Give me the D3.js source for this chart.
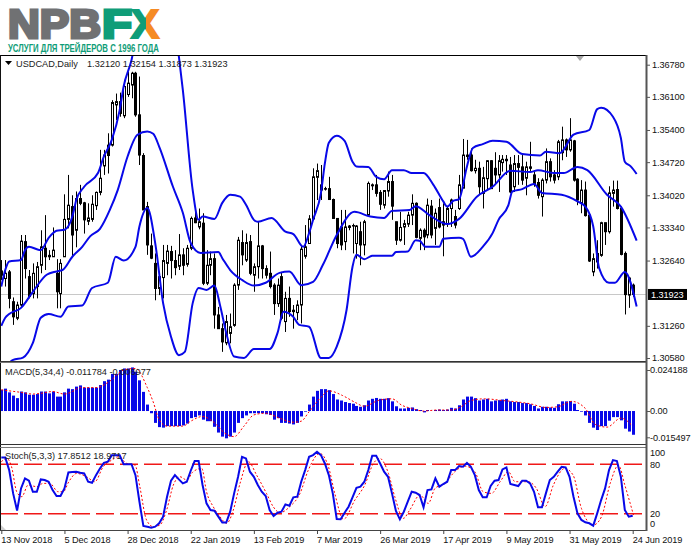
<!DOCTYPE html>
<html><head><meta charset="utf-8">
<script src="https://cdn.jsdelivr.net/npm/d3@7/dist/d3.min.js"></script>
<style>html,body{margin:0;padding:0;background:#fff}svg{display:block}text{font-family:"Liberation Sans",Arial,sans-serif}</style>
</head><body><div id="chart"></div>
<script>
const symbolLabel="USDCAD,Daily", ohlcLabel="1.32120 1.32154 1.31873 1.31923";
const macdLabel="MACD(5,34,4) -0.011784 -0.006977", stochLabel="Stoch(5,3,3) 17.8512 18.9717";
const brandMain="NPB", brandF="F", brandX="X", brandLine="УСЛУГИ ДЛЯ ТРЕЙДЕРОВ С 1996 ГОДА";
const lastPrice=1.31923;
const priceTicks=[1.3678,1.361,1.354,1.3472,1.3402,1.3334,1.3264,1.3126,1.3058];
const dateTicks=["13 Nov 2018","5 Dec 2018","28 Dec 2018","22 Jan 2019","13 Feb 2019","7 Mar 2019","26 Mar 2019","17 Apr 2019","9 May 2019","31 May 2019","24 Jun 2019"];
const macdTicks=[0.024188,0,-0.015497], macdTickLabels=["0.024188","0.00","-0.015497"];
const stochLevels=[80,20];
const stochTickLabels=[["100",93.5],["80",80],["20",20],["0",8]];

const opens=[1.3242,1.3226,1.3240,1.3177,1.3142,1.3170,1.3304,1.3230,1.3194,1.3209,
1.3254,1.3290,1.3275,1.3272,1.3237,1.3194,1.3272,1.3351,1.3378,1.3328,
1.3395,1.3386,1.3347,1.3351,1.3380,1.3408,1.3464,1.3508,1.3508,1.3593,
1.3600,1.3570,1.3615,1.3635,1.3660,1.3572,1.3486,1.3378,1.3295,1.3258,
1.3205,1.3228,1.3258,1.3283,1.3264,1.3252,1.3276,1.3256,1.3290,1.3354,
1.3335,1.3343,1.3216,1.3254,1.3268,1.3149,1.3120,1.3090,1.3110,1.3127,
1.3212,1.3302,1.3265,1.3304,1.3233,1.3251,1.3295,1.3247,1.3237,1.3212,
1.3173,1.3230,1.3135,1.3184,1.3159,1.3154,1.3170,1.3273,1.3300,1.3352,
1.3440,1.3424,1.3416,1.3416,1.3393,1.3353,1.3335,1.3304,1.3337,1.3338,
1.3300,1.3325,1.3297,1.3360,1.3424,1.3424,1.3408,1.3381,1.3411,1.3431,
1.3346,1.3307,1.3335,1.3341,1.3360,1.3385,1.3311,1.3328,1.3318,1.3379,
1.3332,1.3376,1.3346,1.3342,1.3374,1.3357,1.3374,1.3417,1.3487,1.3487,
1.3454,1.3459,1.3406,1.3437,1.3475,1.3459,1.3445,1.3471,1.3478,1.3466,
1.3420,1.3469,1.3462,1.3438,1.3462,1.3445,1.3429,1.3399,1.3434,1.3473,
1.3445,1.3441,1.3492,1.3519,1.3498,1.3517,1.3436,1.3385,1.3413,1.3360,
1.3240,1.3279,1.3275,1.3344,1.3325,1.3406,1.3414,1.3374,1.3279,1.3191,1.3212];
const closes=[1.3233,1.3237,1.3184,1.3145,1.3170,1.3305,1.3247,1.3188,1.3237,1.3251,
1.3293,1.3272,1.3272,1.3286,1.3198,1.3258,1.3351,1.3381,1.3318,1.3395,
1.3385,1.3350,1.3354,1.3383,1.3408,1.3438,1.3487,1.3486,1.3598,1.3600,
1.3575,1.3632,1.3639,1.3660,1.3572,1.3487,1.3371,1.3297,1.3269,1.3205,
1.3230,1.3264,1.3284,1.3264,1.3249,1.3276,1.3254,1.3290,1.3353,1.3344,
1.3346,1.3216,1.3254,1.3268,1.3149,1.3120,1.3092,1.3135,1.3124,1.3212,
1.3307,1.3276,1.3302,1.3237,1.3251,1.3295,1.3247,1.3233,1.3209,1.3173,
1.3212,1.3142,1.3184,1.3156,1.3156,1.3170,1.3288,1.3293,1.3352,1.3441,
1.3454,1.3413,1.3415,1.3393,1.3353,1.3300,1.3297,1.3335,1.3334,1.3337,
1.3337,1.3297,1.3346,1.3427,1.3422,1.3406,1.3383,1.3412,1.3431,1.3379,
1.3307,1.3334,1.3342,1.3360,1.3385,1.3313,1.3328,1.3314,1.3381,1.3318,
1.3364,1.3335,1.3339,1.3374,1.3392,1.3339,1.3424,1.3487,1.3484,1.3454,
1.3459,1.3420,1.3439,1.3475,1.3416,1.3445,1.3475,1.3478,1.3475,1.3409,
1.3469,1.3461,1.3434,1.3462,1.3459,1.3427,1.3402,1.3434,1.3473,1.3441,
1.3434,1.3515,1.3519,1.3498,1.3519,1.3434,1.3392,1.3413,1.3359,1.3263,
1.3268,1.3261,1.3344,1.3325,1.3407,1.3413,1.3374,1.3277,1.3192,1.3227,1.31923];
const highs=[1.3265,1.3265,1.3244,1.3186,1.3177,1.3318,1.3318,1.3244,1.3258,1.3261,
1.3328,1.3360,1.3286,1.3334,1.3267,1.3267,1.3404,1.3445,1.3402,1.3410,
1.3424,1.3388,1.3385,1.3402,1.3410,1.3498,1.3498,1.3533,1.3603,1.3617,
1.3619,1.3646,1.3663,1.3663,1.3663,1.3653,1.3491,1.3388,1.3321,1.3279,
1.3240,1.3297,1.3297,1.3295,1.3286,1.3320,1.3290,1.3297,1.3357,1.3374,
1.3374,1.3364,1.3286,1.3283,1.3279,1.3166,1.3131,1.3149,1.3152,1.3216,
1.3314,1.3328,1.3321,1.3318,1.3258,1.3346,1.3297,1.3254,1.3283,1.3216,
1.3226,1.3240,1.3198,1.3209,1.3170,1.3180,1.3297,1.3339,1.3360,1.3459,
1.3469,1.3466,1.3420,1.3441,1.3395,1.3353,1.3371,1.3371,1.3339,1.3342,
1.3339,1.3346,1.3350,1.3431,1.3427,1.3445,1.3413,1.3412,1.3452,1.3445,
1.3346,1.3367,1.3350,1.3367,1.3404,1.3387,1.3332,1.3332,1.3395,1.3392,
1.3374,1.3395,1.3385,1.3378,1.3395,1.3371,1.3445,1.3521,1.3519,1.3501,
1.3477,1.3473,1.3462,1.3476,1.3476,1.3493,1.3487,1.3487,1.3487,1.3483,
1.3487,1.3487,1.3487,1.3473,1.3515,1.3455,1.3438,1.3438,1.3501,1.3480,
1.3455,1.3519,1.3547,1.3522,1.3565,1.3519,1.3438,1.3434,1.3431,1.3364,
1.3279,1.3307,1.3346,1.3344,1.3421,1.3433,1.3433,1.3378,1.3283,1.3229,1.32154];
const lows=[1.3223,1.3209,1.3163,1.3128,1.3138,1.3166,1.3226,1.3184,1.3184,1.3184,
1.3237,1.3244,1.3265,1.3272,1.3163,1.3163,1.3272,1.3332,1.3272,1.3292,
1.3381,1.3321,1.3339,1.3346,1.3371,1.3402,1.3445,1.3448,1.3505,1.3561,
1.3568,1.3565,1.3610,1.3607,1.3568,1.3466,1.3371,1.3276,1.3267,1.3180,
1.3191,1.3184,1.3233,1.3226,1.3233,1.3244,1.3233,1.3251,1.3286,1.3343,
1.3330,1.3212,1.3212,1.3233,1.3120,1.3120,1.3071,1.3085,1.3089,1.3124,
1.3202,1.3254,1.3261,1.3233,1.3198,1.3226,1.3226,1.3226,1.3205,1.3149,
1.3166,1.3138,1.3113,1.3145,1.3120,1.3138,1.3131,1.3268,1.3300,1.3350,
1.3392,1.3392,1.3412,1.3392,1.3353,1.3290,1.3286,1.3286,1.3328,1.3279,
1.3268,1.3254,1.3275,1.3357,1.3413,1.3399,1.3371,1.3374,1.3399,1.3350,
1.3297,1.3304,1.3297,1.3335,1.3339,1.3311,1.3286,1.3286,1.3311,1.3311,
1.3297,1.3332,1.3273,1.3335,1.3335,1.3332,1.3371,1.3417,1.3477,1.3452,
1.3448,1.3403,1.3374,1.3413,1.3416,1.3427,1.3409,1.3452,1.3445,1.3406,
1.3409,1.3424,1.3424,1.3402,1.3452,1.3420,1.3395,1.3357,1.3427,1.3431,
1.3427,1.3434,1.3476,1.3483,1.3494,1.3431,1.3381,1.3364,1.3357,1.3261,
1.3231,1.3247,1.3272,1.3297,1.3321,1.3378,1.3372,1.3275,1.3150,1.3164,1.31873];

const upperBand=[[0,1.3209],[1,1.3244],[2,1.3262],[5,1.3265],[6,1.3286],[7,1.3293],[10,1.3286],[12,1.3312],[14,1.3327],[16,1.3329],[18,1.3357],[19,1.3392],[21,1.3420],[24.5,1.3449],[26,1.3484],[28,1.3519],[30,1.3582],[31,1.3632],[33,1.3688],[38,1.3950],[45,1.3695],[46,1.3625],[48.5,1.3413],[50,1.3350],[51,1.3357],[54,1.3352],[56,1.3386],[58,1.3403],[60.5,1.3399],[62,1.3382],[64,1.3350],[65,1.3346],[68.5,1.3354],[72,1.3325],[74,1.3320],[76.5,1.3293],[78,1.3322],[79,1.3350],[81,1.3407],[82,1.3470],[83,1.3513],[85,1.3528],[87,1.3517],[89,1.3473],[90,1.3463],[93,1.3462],[95,1.3441],[97,1.3436],[99,1.3455],[102,1.3455],[104,1.3449],[107,1.3449],[109.5,1.3424],[112,1.3389],[113,1.3378],[114.5,1.3390],[116,1.3394],[118,1.3463],[119.5,1.3502],[122,1.3510],[124.5,1.3517],[128,1.3515],[132,1.3489],[136.5,1.3486],[138,1.3494],[141.5,1.3491],[145,1.3530],[149,1.3540],[151,1.3584],[152,1.3587],[155,1.3568],[157,1.3523],[158,1.3473],[159.5,1.3463],[161,1.3447]];
const middleBand=[[0,1.3126],[1,1.3143],[2,1.3151],[5,1.3164],[8,1.3198],[11.5,1.3234],[14,1.3241],[15.5,1.3244],[18,1.3272],[20.5,1.3293],[22.5,1.3315],[25,1.3331],[27.5,1.3371],[29.5,1.3413],[32,1.3484],[34.5,1.3530],[37,1.3537],[38.5,1.3532],[40,1.3505],[43.5,1.3420],[46,1.3365],[48,1.3301],[50.5,1.3280],[55,1.3282],[56,1.3269],[58,1.3244],[61,1.3223],[64,1.3211],[67,1.3217],[70.5,1.3238],[73,1.3241],[76,1.3212],[79,1.3219],[81.5,1.3255],[85,1.3318],[89.5,1.3367],[93.5,1.3357],[97,1.3354],[99,1.3369],[103.5,1.3371],[105,1.3379],[108.5,1.3360],[113,1.3341],[116,1.3352],[120.5,1.3399],[124.5,1.3420],[129,1.3454],[134,1.3451],[136,1.3455],[140,1.3449],[142.5,1.3449],[146,1.3462],[148.5,1.3455],[153.5,1.3403],[157,1.3378],[161,1.3306]];
const lowerBand=[[0,1.3030],[3,1.3054],[5.5,1.3059],[8,1.3090],[10,1.3143],[12,1.3151],[15,1.3145],[17,1.3167],[20.5,1.3169],[23,1.3206],[27,1.3217],[29,1.3272],[31,1.3264],[34,1.3293],[35,1.3336],[37,1.3375],[39,1.3301],[41,1.3174],[43,1.3103],[45,1.3064],[46.5,1.3071],[48.5,1.3174],[50,1.3206],[52,1.3202],[54,1.3211],[55.5,1.3167],[57,1.3111],[59,1.3061],[61.5,1.3058],[64,1.3077],[68,1.3077],[70,1.3111],[71.5,1.3156],[74,1.3145],[75.5,1.3128],[78,1.3124],[81,1.3058],[83,1.3058],[85,1.3082],[87.5,1.3160],[89,1.3251],[90,1.3276],[92,1.3267],[94,1.3274],[99,1.3274],[100,1.3282],[103,1.3283],[105,1.3307],[106,1.3306],[107.5,1.3293],[111,1.3293],[112,1.3310],[116,1.3312],[117,1.3310],[119,1.3272],[122,1.3293],[124.5,1.3322],[126,1.3350],[128.5,1.3381],[129.5,1.3410],[132,1.3415],[135,1.3426],[137,1.3407],[142,1.3403],[146,1.3389],[148,1.3378],[150,1.3336],[151.5,1.3248],[154,1.3217],[155.5,1.3217],[158,1.3240],[161,1.3167]];

const macdBars=[.0125,.0132,.0110,.0091,.0076,.0115,.0110,.0096,.0096,.0100,
.0115,.0115,.0104,.0115,.0085,.0085,.0110,.0132,.0129,.0144,
.0151,.0138,.0138,.0138,.0138,.0153,.0176,.0185,.0219,.0219,
.0242,.0251,.0251,.0257,.0232,.0181,.0113,.0038,-.0013,-.0070,
-.0095,-.0098,-.0089,-.0089,-.0089,-.0089,-.0085,-.0074,-.0042,-.0036,
-.0026,-.0051,-.0060,-.0060,-.0093,-.0127,-.0151,-.0161,-.0151,-.0127,
-.0070,-.0042,-.0026,-.0013,-.0013,-.0013,-.0013,-.0019,-.0023,-.0051,
-.0042,-.0070,-.0070,-.0074,-.0079,-.0070,-.0032,-.0004,.0038,.0085,
.0119,.0129,.0129,.0123,.0100,.0068,.0062,.0053,.0047,.0043,
.0030,.0025,.0034,.0062,.0072,.0077,.0072,.0072,.0076,.0057,
.0028,.0015,.0015,.0019,.0021,.0011,.0006,-.0008,.0006,0,
.0006,.0009,.0006,.0009,.0019,.0015,.0034,.0068,.0085,.0085,
.0076,.0062,.0068,.0072,.0057,.0062,.0064,.0068,.0072,.0057,
.0053,.0053,.0047,.0047,.0040,.0030,.0015,.0025,.0025,.0021,
.0019,.0040,.0057,.0057,.0059,.0043,.0006,-.0004,-.0026,-.0070,
-.0098,-.0112,-.0089,-.0089,-.0057,-.0036,-.0036,-.0055,-.0104,-.0121,-.0140];
const macdSignal=[[0,.0125],[2,.0119],[5,.0110],[8,.0100],[10.5,.0106],[13,.0115],[16,.0100],[18,.0115],[20,.0138],[24,.0138],[27.5,.0176],[31,.0242],[34,.0251],[37,.0138],[38.5,.0053],[40,-.0051],[42,-.0089],[46,-.0089],[48,-.0060],[51,-.0032],[53.5,-.0060],[57,-.0136],[59,-.0151],[61.5,-.0089],[64,-.0023],[67,-.0013],[70.5,-.0042],[74,-.0066],[76,-.0060],[78,-.0004],[81,.0081],[83,.0119],[86.5,.0091],[89.5,.0053],[92,.0028],[95.5,.0062],[99,.0072],[101.5,.0034],[104,.0015],[107,0],[110.5,.0006],[114,.0006],[116.5,.0025],[119,.0062],[122.5,.0072],[127,.0062],[131,.0053],[134,.0043],[138,.0021],[141,.0025],[144.5,.0057],[148,.0015],[150.5,-.0079],[153.5,-.0095],[157,-.0042],[160,-.0089]];

const stochK=[88.2,88.2,72.9,44.7,23.8,50.7,62.8,60,46.7,46.7,
61.6,60.8,58.8,48.7,41.5,41.5,50.7,70.1,70.5,70.9,
69.7,68.9,58.8,57.6,66.8,74.9,81.7,83,91,91,
91,80.1,80.1,80.1,66.8,34.6,5.2,4.4,3.2,4.4,
8.5,16.5,40.7,60,66.8,61.6,56.8,58.8,72.1,83.8,
83.8,54.8,32.6,24.6,23.8,16.5,9.3,9.3,22.5,44.7,
64.8,89,87,70.9,64.8,54.8,46.7,41.5,24.6,17.3,
21.3,22.5,31.4,29.8,39.9,40.7,58.8,72.9,89,91,
95,91,80.9,66.8,44.7,13.7,13.3,21.3,28.6,39.9,
51.5,52.8,58.8,72.9,90.2,90.2,80.9,70.9,64.8,44.7,
23.4,13.3,22.5,34.6,46.7,45.5,42.7,27.8,48.7,49.5,
62.8,52.8,56,58.8,72.9,72.9,77.7,76.9,81.7,76.9,
66.8,48.7,39.9,39.9,53.6,60,60.8,73.7,76.1,56,
54.8,53.6,60,60,56.8,46.7,27.8,27.8,44.7,60.8,
64.8,70.9,76.9,76.1,64.8,40.7,20.5,12.5,9.7,8.5,
5.6,20.5,36.6,50.7,72.9,85,83.8,64.8,24.6,16.5,17.7];
const stochD=[[0,83],[1.4,87],[2.6,76.9],[3.9,46.7],[5.2,40.7],[6.8,54.8],[9,52.8],[10.6,56.8],[12.3,56.8],[14.4,46.7],[15.7,46.7],[17.1,58.8],[19.1,68.9],[21.6,64.8],[23.7,58.8],[25.8,76.9],[28,85],[29.6,89],[31.8,80.9],[33.9,78.9],[35.1,52.8],[36.8,12.5],[38.5,4.4],[40.2,6.4],[41.9,24.6],[43.6,54.8],[45.3,64.8],[47,60.8],[48.6,70.9],[50.8,74.9],[52,46.7],[53.7,28.6],[55.4,16.5],[57.1,8.5],[58.8,24.6],[60.5,56.8],[62.6,83],[64.7,66.8],[67.2,44.7],[68.9,28.6],[70.6,21.3],[73.1,28.6],[75.7,44.7],[77.8,72.9],[80.7,93],[82.9,76.9],[84.5,44.7],[86.7,13.3],[89.6,36.6],[92.1,54.8],[94.3,80.9],[95.9,87],[98.1,68.9],[99.7,40.7],[101.9,14.5],[103.5,24.6],[106.1,42.7],[108.2,32.6],[109.9,50.7],[112.4,56.8],[114.9,70.9],[117.5,77.7],[120,70.9],[122.1,46.7],[124.2,44.7],[126.4,58.8],[128.5,70.9],[130.2,58.8],[133.5,58.8],[135.6,50.7],[137.8,28.6],[139.9,54.8],[142.8,74.9],[144.9,66.8],[147,26.6],[150,6.4],[152.1,16.5],[154.3,56.8],[156.4,78.9],[158,54.8],[160.2,18.5]];

const W=691,H=549;
const svg=d3.select("#chart").append("svg").attr("width",W).attr("height",H).style("background","#fff");
const defs=svg.append("defs");
const clip=(id,x,y,w,h)=>defs.append("clipPath").attr("id",id).append("rect").attr("x",x).attr("y",y).attr("width",w).attr("height",h);
clip("cMain",1,56,645,305); clip("cMacd",1,363,645,81); clip("cStoch",1,448,645,82);
const grad=defs.append("linearGradient").attr("id","xg").attr("x1","0").attr("x2","1").attr("y1","0").attr("y2","0");
grad.append("stop").attr("offset","0.52").attr("stop-color","#0f9d78");
grad.append("stop").attr("offset","0.52").attr("stop-color","#f58a25");

const x=d3.scaleLinear().domain([0,160]).range([1.3,632.7]);
const yP=d3.scaleLinear().domain([1.3058,1.3678]).range([358,64.7]);
const yM=d3.scaleLinear().domain([-0.015497,0.024188]).range([437.3,370]);
const yS=d3.scaleLinear().domain([0,100]).range([530.3,447.7]);
const BLUE="#0808e8";

// logo
const logo=svg.append("g").attr("font-weight","bold");
logo.append("text").text(brandMain).attr("x",8).attr("y",37.5).attr("font-size",41).attr("fill","#707173").attr("stroke","#707173").attr("stroke-width",3).attr("textLength",93).attr("lengthAdjust","spacingAndGlyphs");
logo.append("text").text(brandF).attr("x",102).attr("y",37.5).attr("font-size",41).attr("fill","#0f9d78").attr("stroke","#0f9d78").attr("stroke-width",3).attr("textLength",30).attr("lengthAdjust","spacingAndGlyphs");
logo.append("text").text(brandX).attr("x",131).attr("y",37.5).attr("font-size",41).attr("fill","url(#xg)").attr("stroke","url(#xg)").attr("stroke-width",2).attr("textLength",28).attr("lengthAdjust","spacingAndGlyphs");
logo.append("text").text(brandLine).attr("x",8).attr("y",52).attr("font-size",10.5).attr("fill","#0f9d78").attr("textLength",151).attr("lengthAdjust","spacingAndGlyphs");

// main pane
const main=svg.append("g").attr("clip-path","url(#cMain)");
main.append("line").attr("x1",0).attr("x2",646).attr("y1",Math.round(yP(lastPrice))+.5).attr("y2",Math.round(yP(lastPrice))+.5).attr("stroke","#c8c8c8");
const idx=d3.range(opens.length);
const px=i=>Math.round(x(i));
main.append("g").selectAll("line").data(idx).join("line")
 .attr("x1",i=>px(i)+.5).attr("x2",i=>px(i)+.5).attr("y1",i=>yP(highs[i])).attr("y2",i=>yP(lows[i])).attr("stroke","#000");
main.append("g").selectAll("rect").data(idx).join("rect")
 .attr("x",i=>px(i)-.5).attr("width",2)
 .attr("y",i=>yP(Math.max(opens[i],closes[i])))
 .attr("height",i=>Math.max(.5,Math.abs(yP(opens[i])-yP(closes[i]))))
 .attr("fill",i=>closes[i]>=opens[i]?"#fff":"#000").attr("stroke","#000");
const band=d3.line().x(d=>x(d[0])).y(d=>yP(d[1])).curve(d3.curveMonotoneX);
[upperBand,middleBand,lowerBand].forEach(b=>main.append("path").attr("d",band(b)).attr("fill","none").attr("stroke",BLUE).attr("stroke-width",2));
main.append("path").attr("d",d3.line()([[576,56],[584,56],[580,61]])).attr("fill","#a8a8a8");

// MACD pane
const mp=svg.append("g").attr("clip-path","url(#cMacd)");
mp.selectAll("rect").data(macdBars).join("rect")
 .attr("x",(d,i)=>px(i)-1).attr("width",3)
 .attr("y",d=>Math.min(yM(d),yM(0))).attr("height",d=>Math.abs(yM(d)-yM(0))).attr("fill",BLUE);
mp.append("path").attr("d",d3.line().x(d=>x(d[0])).y(d=>yM(d[1])).curve(d3.curveMonotoneX)(macdSignal)).attr("fill","none").attr("stroke","#f00").attr("stroke-width",1).attr("stroke-dasharray","2,2");

// Stochastic pane
const sp=svg.append("g").attr("clip-path","url(#cStoch)");
stochLevels.forEach(l=>sp.append("line").attr("x1",0).attr("x2",646).attr("y1",yS(l)).attr("y2",yS(l)).attr("stroke","#f01818").attr("stroke-width",1.5).attr("stroke-dasharray","18,6"));
sp.append("path").attr("d",d3.line().x(d=>x(d[0])).y(d=>yS(d[1])).curve(d3.curveMonotoneX)(stochD)).attr("fill","none").attr("stroke","#f00").attr("stroke-width",1).attr("stroke-dasharray","2,2");
sp.append("path").attr("d",d3.line().x((d,i)=>x(i)).y(d=>yS(d))(stochK)).attr("fill","none").attr("stroke",BLUE).attr("stroke-width",2);
svg.append("path").attr("d",d3.line()([[1,525],[1,530],[6,530]])).attr("fill","#cfcfcf");

// frames
const fr=svg.append("g").attr("stroke-width",1);
fr.append("line").attr("x1",0).attr("x2",646).attr("y1",55.5).attr("y2",55.5).attr("stroke","#000");
fr.append("line").attr("x1",0.5).attr("x2",0.5).attr("y1",55).attr("y2",531).attr("stroke","#111");
[[361.5,"#333"],[362.5,"#777"],[444.5,"#333"],[447.5,"#777"],[530.5,"#444"]].forEach(a=>fr.append("line").attr("x1",0).attr("x2",647).attr("y1",a[0]).attr("y2",a[0]).attr("stroke",a[1]));
fr.append("line").attr("x1",646.5).attr("x2",646.5).attr("y1",55).attr("y2",531).attr("stroke","#555").attr("stroke-width",2);

// axes
const fs=9.2, ls="-0.1px";
const axP=d3.axisRight(yP).tickValues(priceTicks).tickFormat(d3.format(".5f")).tickSize(3).tickPadding(2);
const gP=svg.append("g").attr("transform","translate(647,0)").call(axP);
const axM=d3.axisRight(yM).tickValues(macdTicks).tickFormat((d,i)=>macdTickLabels[i]).tickSize(3).tickPadding(0);
const gM=svg.append("g").attr("transform","translate(647,0)").call(axM);
[gP,gM].forEach(g=>{g.select(".domain").remove();g.selectAll("line").attr("stroke","#555");g.selectAll("text").attr("font-size",fs).attr("letter-spacing",ls).attr("fill","#111").attr("font-family","Liberation Sans");});
const gS=svg.append("g");
gS.selectAll("text").data(stochTickLabels).join("text").text(d=>d[0]).attr("x",650).attr("y",d=>yS(d[1])+3.3).attr("font-size",fs).attr("letter-spacing",ls).attr("fill","#111");
const axX=d3.axisBottom(x).tickValues(d3.range(0,161,16)).tickFormat((d,i)=>dateTicks[i]).tickSize(4).tickPadding(2);
const gX=svg.append("g").attr("transform","translate(0,530)").call(axX);
gX.select(".domain").remove();gX.selectAll("line").attr("stroke","#444");
gX.selectAll("text").attr("text-anchor","start").attr("font-size",fs).attr("letter-spacing",ls).attr("fill","#111").attr("font-family","Liberation Sans").attr("dx",-.5).attr("y",6);

// last price box
svg.append("rect").attr("x",648).attr("y",yP(lastPrice)-5.5).attr("width",39).attr("height",11).attr("fill","#000");
svg.append("text").text(d3.format(".5f")(lastPrice)).attr("x",651).attr("y",yP(lastPrice)+3.3).attr("font-size",fs).attr("letter-spacing",ls).attr("fill","#fff");

// headers
svg.append("path").attr("d",d3.line()([[5,61],[12,61],[8.5,65]])).attr("fill","#000");
const hdr=svg.append("g").attr("font-size",fs).attr("fill","#1a1a1a");
hdr.append("text").text(symbolLabel).attr("x",16).attr("y",67);
hdr.append("text").text(ohlcLabel).attr("x",87).attr("y",67);
hdr.append("text").text(macdLabel).attr("x",5).attr("y",375);
hdr.append("text").text(stochLabel).attr("x",5).attr("y",459);
</script></body></html>
